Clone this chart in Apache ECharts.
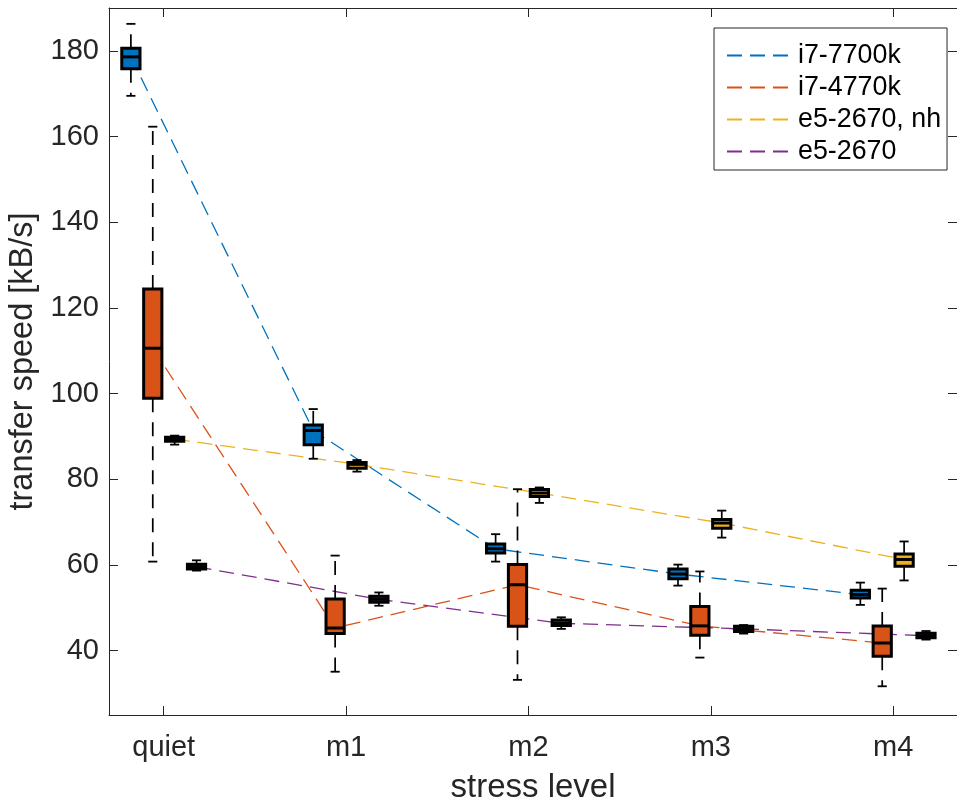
<!DOCTYPE html>
<html>
<head>
<meta charset="utf-8">
<script src="https://cdn.jsdelivr.net/npm/echarts@6/dist/echarts.min.js"></script>
<style>
  html, body { margin: 0; padding: 0; background: #fff; }
  #chart { width: 957px; height: 802px; }
</style>
</head>
<body>
<div id="chart"></div>
<script>
// Stress levels along the x axis
const categories = ['quiet', 'm1', 'm2', 'm3', 'm4'];
const seriesNames = ['i7-7700k', 'i7-4770k', 'e5-2670, nh', 'e5-2670'];
const seriesColors = ['#0072BD', '#D95319', '#EDB120', '#7E2F8E'];

// Five-number summaries per stress level, in kB/s:
// [lower whisker, Q1, median, Q3, upper whisker]
const i7_7700k = [
  [169.5, 175.8, 178.6, 180.6, 186.3],
  [84.8, 88.1, 91.4, 92.7, 96.4],
  [60.8, 62.8, 63.8, 64.9, 67.2],
  [55.2, 56.8, 57.9, 59.1, 60.1],
  [50.7, 52.3, 53.1, 54.1, 55.9]
];
const i7_4770k = [
  [60.8, 98.9, 110.6, 124.4, 162.3],
  [35.1, 44.0, 45.3, 52.1, 62.2],
  [33.2, 45.7, 55.4, 60.1, 77.7],
  [38.4, 43.6, 45.8, 50.3, 58.5],
  [31.7, 38.7, 41.8, 45.8, 54.5]
];
const e5_2670_nh = [
  [88.1, 88.9, 89.4, 89.8, 90.2],
  [81.8, 82.6, 83.5, 83.9, 84.5],
  [74.5, 76.0, 76.8, 77.6, 78.1],
  [66.4, 68.6, 69.8, 70.6, 72.7],
  [56.4, 59.7, 61.3, 62.6, 65.5]
];
const e5_2670 = [
  [58.7, 59.1, 59.6, 60.2, 61.1],
  [50.5, 51.3, 52.0, 52.7, 53.6],
  [45.1, 45.9, 46.4, 47.2, 47.8],
  [44.0, 44.5, 45.1, 45.7, 46.0],
  [42.6, 43.0, 43.5, 44.1, 44.6]
];

const yTicks = [40, 60, 80, 100, 120, 140, 160, 180];
const xTicks = [1, 2, 3, 4, 5];

const allSummaries = [i7_7700k, i7_4770k, e5_2670_nh, e5_2670];

// Boxes of one stress level sit side by side around the level's tick
const GROUP_STEP = 0.12;
const BOX_WIDTH = 0.1;
const offsetOf = s => (s - (allSummaries.length - 1) / 2) * GROUP_STEP;

const FONT = "'Liberation Sans', Arial, Helvetica, sans-serif";
const AXIS_COLOR = '#262626';

function renderBox(params, api) {
  const x = api.value(0);
  const py = k => api.coord([x, api.value(k)])[1];
  const cx = api.coord([x, api.value(3)])[0];
  const half = api.size([BOX_WIDTH, 0])[0] / 2;
  const yLow = py(1), yQ1 = py(2), yMed = py(3), yQ3 = py(4), yHigh = py(5);
  const whisker = { stroke: '#000', lineWidth: 1.7, lineDash: [14, 10], fill: null };
  const cap = { stroke: '#000', lineWidth: 1.8, fill: null };
  return {
    type: 'group',
    children: [
      { type: 'line', shape: { x1: cx, y1: yQ3, x2: cx, y2: yHigh }, style: whisker },
      { type: 'line', shape: { x1: cx, y1: yQ1, x2: cx, y2: yLow }, style: whisker },
      { type: 'line', shape: { x1: cx - half / 2, y1: yHigh, x2: cx + half / 2, y2: yHigh }, style: cap },
      { type: 'line', shape: { x1: cx - half / 2, y1: yLow, x2: cx + half / 2, y2: yLow }, style: cap },
      {
        type: 'rect',
        shape: { x: cx - half, y: yQ3, width: 2 * half, height: yQ1 - yQ3 },
        style: { fill: api.visual('color'), stroke: '#000', lineWidth: 3 }
      },
      {
        type: 'line',
        shape: { x1: cx - half, y1: yMed, x2: cx + half, y2: yMed },
        style: { stroke: '#000', lineWidth: 3, fill: null }
      }
    ]
  };
}

const series = [];
allSummaries.forEach((summ, s) => {
  const off = offsetOf(s);
  // dashed line joining the medians
  series.push({
    type: 'line',
    name: seriesNames[s],
    data: summ.map((d, i) => [i + 1 + off, d[2]]),
    symbol: 'none',
    color: seriesColors[s],
    lineStyle: { color: seriesColors[s], width: 1.3, type: [15, 8] },
    z: 2,
    silent: true
  });
});
allSummaries.forEach((summ, s) => {
  const off = offsetOf(s);
  series.push({
    type: 'custom',
    data: summ.map((d, i) => [i + 1 + off].concat(d)),
    encode: { x: 0, y: [1, 2, 3, 4, 5] },
    itemStyle: { color: seriesColors[s] },
    renderItem: renderBox,
    z: 3,
    silent: true
  });
});

const chart = echarts.init(document.getElementById('chart'), null, { renderer: 'canvas' });

const xRange = { min: 0.7, max: 5.35 };
const yRange = { min: 25, max: 190 };

chart.setOption({
  animation: false,
  backgroundColor: '#fff',
  grid: { left: 109, right: 0, top: 8, bottom: 87, containLabel: false, outerBoundsMode: 'none' },
  legend: {
    orient: 'vertical',
    left: 714,
    top: 28,
    data: seriesNames,
    padding: [14, 6, 5, 12],
    itemGap: 5,
    itemWidth: 63,
    itemHeight: 26,
    borderColor: AXIS_COLOR,
    borderWidth: 1,
    backgroundColor: '#fff',
    itemStyle: { opacity: 0 },
    textStyle: { fontFamily: FONT, fontSize: 26.8, color: '#000', padding: [0, 0, 0, 3] },
    selectedMode: false
  },
  xAxis: [
    {
      type: 'value',
      ...xRange,
      position: 'bottom',
      name: 'stress level',
      nameLocation: 'middle',
      nameGap: 56,
      nameTextStyle: { fontFamily: FONT, fontSize: 33, color: AXIS_COLOR },
      axisLine: { show: true, lineStyle: { color: AXIS_COLOR, width: 1 } },
      axisTick: { show: true, inside: true, length: 9, customValues: xTicks, lineStyle: { color: AXIS_COLOR } },
      axisLabel: {
        show: true,
        customValues: xTicks,
        margin: 18,
        fontFamily: FONT,
        fontSize: 29,
        color: AXIS_COLOR,
        formatter: v => categories[Math.round(v) - 1]
      },
      splitLine: { show: false }
    },
    {
      type: 'value',
      ...xRange,
      position: 'top',
      axisLine: { show: true, lineStyle: { color: AXIS_COLOR, width: 1 } },
      axisTick: { show: true, inside: true, length: 9, customValues: xTicks, lineStyle: { color: AXIS_COLOR } },
      axisLabel: { show: false },
      splitLine: { show: false }
    }
  ],
  yAxis: [
    {
      type: 'value',
      ...yRange,
      position: 'left',
      name: 'transfer speed [kB/s]',
      nameLocation: 'middle',
      nameGap: 62,
      nameTextStyle: { fontFamily: FONT, fontSize: 32.5, color: AXIS_COLOR },
      axisLine: { show: true, lineStyle: { color: AXIS_COLOR, width: 1 } },
      axisTick: { show: true, inside: true, length: 9, customValues: yTicks, lineStyle: { color: AXIS_COLOR } },
      axisLabel: {
        show: true,
        customValues: yTicks,
        margin: 10,
        fontFamily: FONT,
        fontSize: 29,
        color: AXIS_COLOR
      },
      splitLine: { show: false }
    },
    {
      type: 'value',
      ...yRange,
      position: 'right',
      axisLine: { show: true, lineStyle: { color: AXIS_COLOR, width: 1 } },
      axisTick: { show: true, inside: true, length: 9, customValues: yTicks, lineStyle: { color: AXIS_COLOR } },
      axisLabel: { show: false },
      splitLine: { show: false }
    }
  ],
  series: series
});
</script>
</body>
</html>
